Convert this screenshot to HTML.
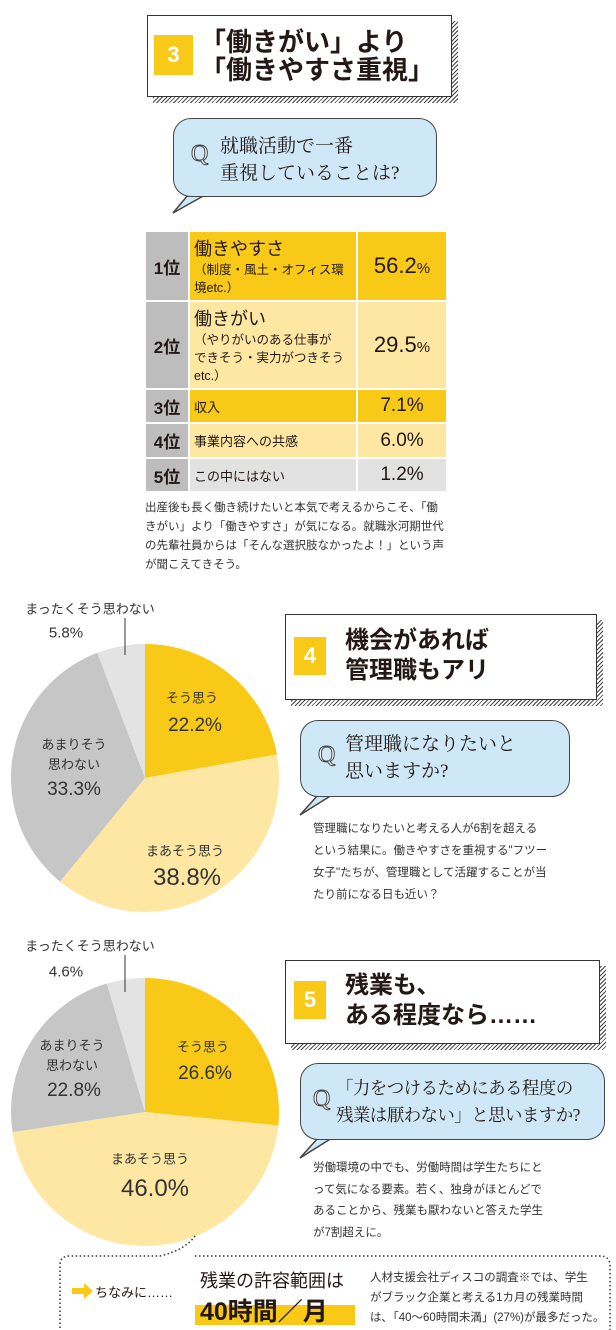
<!DOCTYPE html>
<html><head><meta charset="utf-8">
<style>
*{margin:0;padding:0;box-sizing:border-box}
body{width:616px;height:1330px;background:#fff;position:relative;overflow:hidden;font-family:"Liberation Sans","Noto Sans CJK JP",sans-serif;color:#231815}
.abs{position:absolute}
.tbox{position:absolute;background:#fff;border:1.5px solid #333}
.shadow{position:absolute;background:repeating-linear-gradient(135deg,#444 0 1px,#fff 1px 3px)}
.badge{position:absolute;background:#f8c916;color:#fff;font-weight:bold;font-size:22px;display:flex;align-items:center;justify-content:center}
.ttl{position:absolute;font-weight:bold;font-size:25px;line-height:28px;white-space:nowrap;color:#231815}
.qb{position:absolute;background:#cfe8f7;border:1.5px solid #444;border-radius:18px}
.qt{position:absolute;font-family:"Liberation Serif","Noto Serif CJK JP",serif;font-size:19px;line-height:27px;white-space:nowrap}
.ql{position:absolute;font-family:"Liberation Serif",serif;font-size:24px;color:#fff;-webkit-text-stroke:1px #444}
.para{position:absolute;font-size:11.5px;line-height:21px;color:#333;white-space:nowrap}
.lbl{position:absolute;text-align:center;white-space:nowrap;transform:translate(-50%,-50%);color:#333}
table{position:absolute;left:144px;top:230px;width:304px;border-collapse:collapse}
td{border:2px solid #fff;padding:0 4px;font-size:13px}
td.r{background:#bdbdbd;font-weight:bold;font-size:17px;text-align:center;width:44px}
td.p{text-align:center;font-size:19px;width:90px}
</style></head><body>

<!-- Section 3 -->
<div class="shadow" style="left:153px;top:21px;width:305px;height:82px"></div>
<div class="tbox" style="left:147px;top:15px;width:305px;height:82px"></div>
<div class="badge" style="left:154px;top:35px;width:39px;height:40px">3</div>
<div class="ttl" style="left:200px;top:28px;font-size:26px">「働きがい」より<br>「働きやすさ重視」</div>

<svg class="abs" style="left:0;top:0" width="616" height="1330">
<path d="M188 195 L173 213 L205 195" fill="#cfe8f7" stroke="#444" stroke-width="1.5"/>
<path d="M318 795 L300 815 L332 795" fill="#cfe8f7" stroke="#444" stroke-width="1.5"/>
<path d="M318 1138 L300 1158 L332 1138" fill="#cfe8f7" stroke="#444" stroke-width="1.5"/>
</svg>
<div class="qb" style="left:173px;top:118px;width:264px;height:79px"></div>
<div class="ql" style="left:191px;top:141px">Q</div>
<div class="qt" style="left:220px;top:133px">就職活動で一番<br>重視していることは?</div>

<table>
<tr style="height:70px"><td class="r">1位</td><td style="background:#f8c916"><div style="font-size:18px">働きやすさ</div><div style="font-size:12.5px;line-height:18px">（制度・風土・オフィス環<br>境etc.）</div></td><td class="p" style="background:#f8c916;font-size:22px">56.2<small style="font-size:15px">%</small></td></tr>
<tr style="height:88px"><td class="r">2位</td><td style="background:#fde7a2"><div style="font-size:18px">働きがい</div><div style="font-size:12.5px;line-height:18px">（やりがいのある仕事が<br>できそう・実力がつきそう<br>etc.）</div></td><td class="p" style="background:#fde7a2;font-size:22px">29.5<small style="font-size:15px">%</small></td></tr>
<tr style="height:34px"><td class="r">3位</td><td style="background:#f8c916">収入</td><td class="p" style="background:#f8c916">7.1%</td></tr>
<tr style="height:35px"><td class="r">4位</td><td style="background:#fde7a2">事業内容への共感</td><td class="p" style="background:#fde7a2">6.0%</td></tr>
<tr style="height:34px"><td class="r">5位</td><td style="background:#e2e2e2">この中にはない</td><td class="p" style="background:#e2e2e2">1.2%</td></tr>
</table>
<div class="para" style="left:145px;top:499px;line-height:19px">出産後も長く働き続けたいと本気で考えるからこそ、「働<br>きがい」より「働きやすさ」が気になる。就職氷河期世代<br>の先輩社員からは「そんな選択肢なかったよ！」という声<br>が聞こえてきそう。</div>

<!-- Pies -->
<svg id="pies" class="abs" style="left:0;top:0" width="616" height="1330"></svg>

<div class="lbl" style="left:90px;top:608px;font-size:13px">まったくそう思わない</div>
<div class="lbl" style="left:66px;top:633px;font-size:15px">5.8%</div>
<div class="lbl" style="left:192px;top:697px;font-size:13px">そう思う</div>
<div class="lbl" style="left:195px;top:726px;font-size:19px">22.2%</div>
<div class="lbl" style="left:74px;top:755px;font-size:13px;line-height:20px">あまりそう<br>思わない</div>
<div class="lbl" style="left:74px;top:790px;font-size:19px">33.3%</div>
<div class="lbl" style="left:185px;top:850px;font-size:13px">まあそう思う</div>
<div class="lbl" style="left:187px;top:878px;font-size:24px">38.8%</div>

<div class="lbl" style="left:90px;top:945px;font-size:13px">まったくそう思わない</div>
<div class="lbl" style="left:66px;top:972px;font-size:15px">4.6%</div>
<div class="lbl" style="left:203px;top:1046px;font-size:13px">そう思う</div>
<div class="lbl" style="left:205px;top:1074px;font-size:19px">26.6%</div>
<div class="lbl" style="left:72px;top:1056px;font-size:13px;line-height:20px">あまりそう<br>思わない</div>
<div class="lbl" style="left:74px;top:1091px;font-size:19px">22.8%</div>
<div class="lbl" style="left:150px;top:1158px;font-size:13px">まあそう思う</div>
<div class="lbl" style="left:155px;top:1189px;font-size:24px">46.0%</div>

<!-- Section 4 -->
<div class="shadow" style="left:291px;top:620px;width:312px;height:86px"></div>
<div class="tbox" style="left:285px;top:614px;width:312px;height:86px"></div>
<div class="badge" style="left:294px;top:637px;width:32px;height:38px">4</div>
<div class="ttl" style="left:345px;top:626px;font-size:24px;line-height:30px">機会があれば<br>管理職もアリ</div>
<div class="qb" style="left:300px;top:720px;width:270px;height:77px"></div>
<div class="ql" style="left:318px;top:742px">Q</div>
<div class="qt" style="left:345px;top:731px">管理職になりたいと<br>思いますか?</div>
<div class="para" style="left:313px;top:818px;line-height:22px">管理職になりたいと考える人が6割を超える<br>という結果に。働きやすさを重視する"フツー<br>女子"たちが、管理職として活躍することが当<br>たり前になる日も近い？</div>

<!-- Section 5 -->
<div class="shadow" style="left:291px;top:966px;width:315px;height:84px"></div>
<div class="tbox" style="left:285px;top:960px;width:315px;height:84px"></div>
<div class="badge" style="left:294px;top:981px;width:32px;height:38px">5</div>
<div class="ttl" style="left:345px;top:971px;font-size:24px;line-height:30px">残業も、<br>ある程度なら……</div>
<div class="qb" style="left:300px;top:1063px;width:305px;height:77px"></div>
<div class="ql" style="left:313px;top:1086px">Q</div>
<div class="qt" style="left:336px;top:1075px;font-size:17.5px;letter-spacing:-0.6px">「力をつけるためにある程度の<br>残業は厭わない」と思いますか?</div>
<div class="para" style="left:313px;top:1158px;line-height:21.5px">労働環境の中でも、労働時間は学生たちにと<br>って気になる要素。若く、独身がほとんどで<br>あることから、残業も厭わないと答えた学生<br>が7割超えに。</div>

<!-- Footnote box -->
<svg class="abs" style="left:0;top:0" width="616" height="1330">
<path d="M60 1340 L60 1265 Q60 1256 70 1256 L160 1256 Q185 1250 195 1236 M195 1256 L600 1256 Q610 1256 610 1266 L610 1340" fill="none" stroke="#333" stroke-width="1.5" stroke-dasharray="1.5 2.5"/>
<path d="M72 1288 L84 1288 L84 1283 L93 1291 L84 1299 L84 1294 L72 1294 Z" fill="#f8c916"/>
</svg>
<div class="abs" style="left:95px;top:1282px;font-size:13px;white-space:nowrap">ちなみに……</div>
<div class="abs" style="left:195px;top:1305px;width:160px;height:20px;background:#f8c916"></div>
<div class="abs" style="left:200px;top:1267px;font-size:18px;white-space:nowrap">残業の許容範囲は</div>
<div class="abs" style="left:200px;top:1292px;font-size:25px;font-weight:bold;white-space:nowrap">40時間／月</div>
<div class="para" style="left:370px;top:1268px;font-size:11.5px;line-height:20px">人材支援会社ディスコの調査※では、学生<br>がブラック企業と考える1カ月の残業時間<br>は､「40～60時間未満」(27%)が最多だった。</div>

<script>
const pie1Categories = ["そう思う","まあそう思う","あまりそう思わない","まったくそう思わない"];
const pie1Values = [22.2, 38.8, 33.3, 5.8];
const pie2Categories = ["そう思う","まあそう思う","あまりそう思わない","まったくそう思わない"];
const pie2Values = [26.6, 46.0, 22.8, 4.6];
const sliceColors = ["#f8c916","#fde7a2","#c6c6c6","#e3e3e3"];
const NS = "http://www.w3.org/2000/svg";
const svg = document.getElementById('pies');
function angleScale(v, total){ return v / total * Math.PI * 2; }
function drawPie(values, cats, cx, cy, r, name){
  const total = values.reduce((a,b)=>a+b,0);
  let a0 = -Math.PI/2;
  values.forEach((v,i)=>{
    const a1 = a0 + angleScale(v,total);
    const x0 = cx + r*Math.cos(a0), y0 = cy + r*Math.sin(a0);
    const x1 = cx + r*Math.cos(a1), y1 = cy + r*Math.sin(a1);
    const large = (a1-a0) > Math.PI ? 1 : 0;
    const p = document.createElementNS(NS,'path');
    p.setAttribute('d',`M${cx} ${cy} L${x0} ${y0} A${r} ${r} 0 ${large} 1 ${x1} ${y1} Z`);
    p.setAttribute('fill',sliceColors[i]);
    
    
    svg.appendChild(p);
    a0 = a1;
  });
}
drawPie(pie1Values, pie1Categories, 145, 778, 134, 'pie1');
drawPie(pie2Values, pie2Categories, 145, 1112, 134, 'pie2');
[[618,655],[955,992]].forEach(([y0,y1])=>{
  const l = document.createElementNS(NS,'line');
  l.setAttribute('x1',125);l.setAttribute('x2',125);l.setAttribute('y1',y0);l.setAttribute('y2',y1);
  l.setAttribute('stroke','#333');l.setAttribute('stroke-width','1');
  
  
  svg.appendChild(l);
});
</script>
</body></html>
